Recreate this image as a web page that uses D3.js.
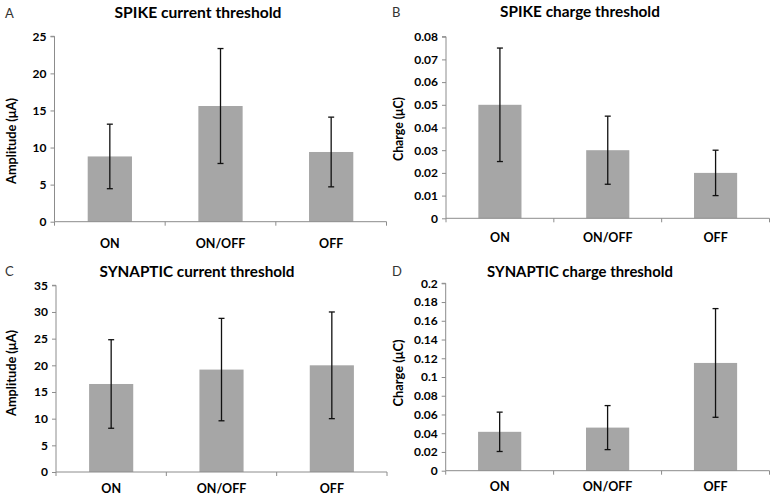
<!DOCTYPE html>
<html>
<head>
<meta charset="utf-8">
<script src="https://cdn.jsdelivr.net/npm/d3@7"></script>
<style>
  html, body { margin: 0; padding: 0; background: #fff; }
  svg { display: block; }
  text { font-family: Lato, "Open Sans", sans-serif; }
</style>
</head>
<body>
<svg id="chart" width="774" height="502"></svg>
<script>
// ---------- data ----------
const categories = ["ON", "ON/OFF", "OFF"];

const spikeCurrent = [8.8, 15.6, 9.4];
const spikeCurrentErr = [4.35, 7.75, 4.7];

const spikeCharge = [0.05, 0.03, 0.02];
const spikeChargeErr = [0.025, 0.015, 0.01];

const synapticCurrent = [16.5, 19.2, 20.0];
const synapticCurrentErr = [8.3, 9.6, 10.0];

const synapticCharge = [0.0415, 0.046, 0.115];
const synapticChargeErr = [0.021, 0.0235, 0.058];

const ticksSpikeCurrent = ["0", "5", "10", "15", "20", "25"];
const ticksSpikeCharge = ["0", "0.01", "0.02", "0.03", "0.04", "0.05", "0.06", "0.07", "0.08"];
const ticksSynapticCurrent = ["0", "5", "10", "15", "20", "25", "30", "35"];
const ticksSynapticCharge = ["0", "0.02", "0.04", "0.06", "0.08", "0.1", "0.12", "0.14", "0.16", "0.18", "0.2"];

const panelLetters = ["A", "B", "C", "D"];
const panelTitles = ["SPIKE current threshold", "SPIKE charge threshold",
                     "SYNAPTIC current threshold", "SYNAPTIC charge threshold"];
const yLabels = ["Amplitude (\u03bcA)", "Charge (\u03bcC)", "Amplitude (\u03bcA)", "Charge (\u03bcC)"];

// ---------- layout ----------
const panels = [
  { values: spikeCurrent, errs: spikeCurrentErr, ticks: ticksSpikeCurrent,
    x0: 54.5, x1: 386.5, yBase: 221.7, yTop: 36.3,
    letter: [5, 18], title: [198, 17.5, 167], ylab: [16, 141, 86], catY: 248 },
  { values: spikeCharge, errs: spikeChargeErr, ticks: ticksSpikeCharge,
    x0: 446, x1: 769.5, yBase: 218.3, yTop: 36.7,
    letter: [392, 16.5], title: [580, 16.5, 160], ylab: [403, 129, 64], catY: 242 },
  { values: synapticCurrent, errs: synapticCurrentErr, ticks: ticksSynapticCurrent,
    x0: 56, x1: 387, yBase: 472, yTop: 285.3,
    letter: [5, 276], title: [197, 277, 195], ylab: [16, 373, 86], catY: 493 },
  { values: synapticCharge, errs: synapticChargeErr, ticks: ticksSynapticCharge,
    x0: 445.7, x1: 769.5, yBase: 470.7, yTop: 283.3,
    letter: [392, 276], title: [580, 277, 186], ylab: [403, 373, 67], catY: 491 }
];

const svg = d3.select("#chart");
const axisColor = "#8c8c8c";
const barColor = "#a6a6a6";

// scale font size so the text spans the target length
function fitText(sel, baseSize, target) {
  sel.style("font-size", baseSize + "px");
  const w = sel.node().getComputedTextLength();
  if (w > 0) sel.style("font-size", (baseSize * target / w).toFixed(2) + "px");
}

panels.forEach((p, i) => {
  const g = svg.append("g");
  const tickVals = p.ticks.map(Number);
  const yMax = tickVals[tickVals.length - 1];

  const x = d3.scaleBand().domain(categories).range([p.x0, p.x1]).paddingInner(0.6).paddingOuter(0.3);
  const xb = d3.scaleBand().domain(categories).range([p.x0, p.x1]);
  const y = d3.scaleLinear().domain([0, yMax]).range([p.yBase, p.yTop]);

  // bars
  g.selectAll("rect.bar").data(p.values).enter().append("rect")
    .attr("x", (d, j) => x(categories[j]))
    .attr("width", x.bandwidth())
    .attr("y", d => y(d))
    .attr("height", d => y(0) - y(d))
    .attr("fill", barColor);

  // y axis
  const yAxis = d3.axisLeft(y).tickValues(tickVals)
    .tickFormat((d, j) => p.ticks[j]).tickSize(4).tickPadding(4);
  const ya = g.append("g").attr("transform", `translate(${p.x0},0)`).call(yAxis);
  ya.select(".domain").attr("stroke", axisColor).attr("d", `M-4,${y(yMax)}H0V${y(0)}`);
  ya.selectAll(".tick line").attr("stroke", axisColor);
  ya.selectAll(".tick text").attr("fill", "#000").style("font-weight", "bold")
    .style("font-size", "12px").style("font-family", "Lato, sans-serif");

  // x axis line with boundary ticks
  g.append("line").attr("x1", p.x0).attr("x2", p.x1).attr("y1", p.yBase).attr("y2", p.yBase)
    .attr("stroke", axisColor).attr("stroke-width", 1);
  const bounds = categories.map(c => xb(c)).concat([p.x1]);
  g.selectAll("line.xt").data(bounds).enter().append("line")
    .attr("x1", d => d).attr("x2", d => d)
    .attr("y1", p.yBase).attr("y2", p.yBase + 4)
    .attr("stroke", axisColor);

  // category labels
  g.selectAll("text.cat").data(categories).enter().append("text")
    .attr("x", d => xb(d) + xb.bandwidth() / 2)
    .attr("y", p.catY)
    .attr("text-anchor", "middle")
    .style("font-weight", "bold").style("font-size", "12.5px")
    .text(d => d);

  // error bars
  const eb = g.selectAll("g.err").data(p.values).enter().append("g");
  eb.append("line")
    .attr("x1", (d, j) => xb(categories[j]) + xb.bandwidth() / 2)
    .attr("x2", (d, j) => xb(categories[j]) + xb.bandwidth() / 2)
    .attr("y1", (d, j) => y(d + p.errs[j]))
    .attr("y2", (d, j) => y(d - p.errs[j]))
    .attr("stroke", "#111").attr("stroke-width", 1.3);
  [1, -1].forEach(s => {
    eb.append("line")
      .attr("x1", (d, j) => xb(categories[j]) + xb.bandwidth() / 2 - 3)
      .attr("x2", (d, j) => xb(categories[j]) + xb.bandwidth() / 2 + 3)
      .attr("y1", (d, j) => y(d + s * p.errs[j]))
      .attr("y2", (d, j) => y(d + s * p.errs[j]))
      .attr("stroke", "#111").attr("stroke-width", 1.3);
  });

  // panel letter
  g.append("text").attr("x", p.letter[0]).attr("y", p.letter[1])
    .style("font-size", "13px").attr("fill", "#333").text(panelLetters[i]);

  // title
  const t = g.append("text").attr("x", p.title[0]).attr("y", p.title[1])
    .attr("text-anchor", "middle")
    .style("font-weight", "bold")
    .text(panelTitles[i]);
  fitText(t, 14, p.title[2]);

  // y label
  const yl = g.append("text")
    .attr("transform", `translate(${p.ylab[0]},${p.ylab[1]}) rotate(-90)`)
    .attr("text-anchor", "middle")
    .style("font-weight", "bold")
    .text(yLabels[i]);
  fitText(yl, 11.5, p.ylab[2]);
});
</script>
</body>
</html>
